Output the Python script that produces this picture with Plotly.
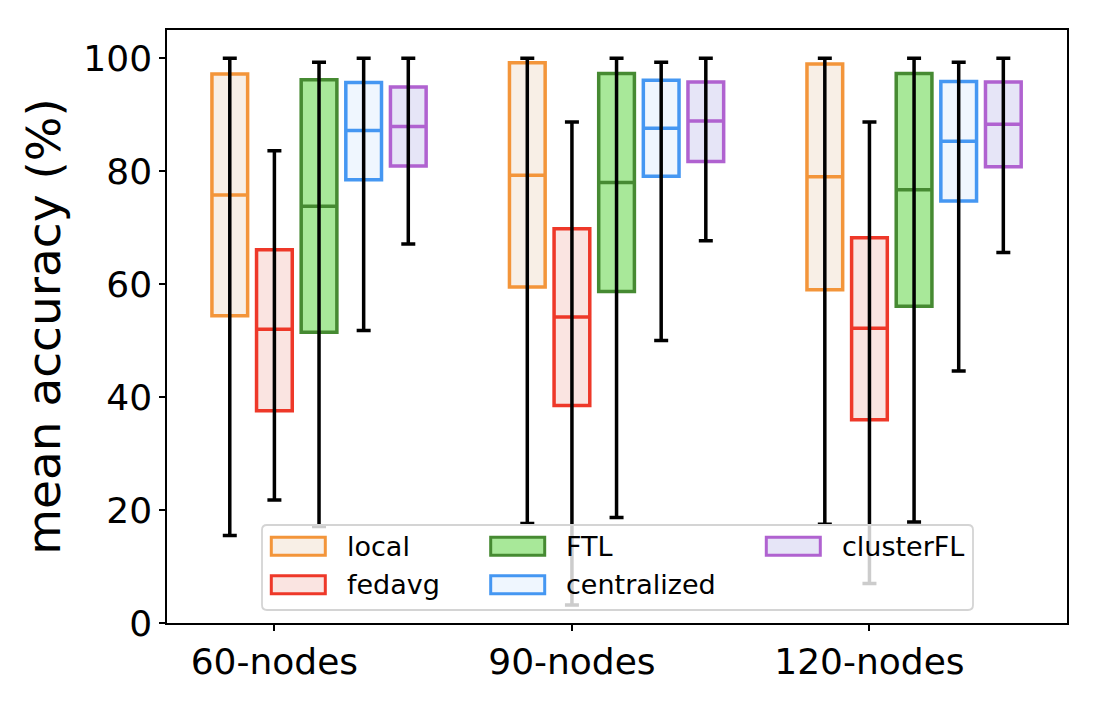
import plotly.graph_objects as go

# ---------------- data ----------------
groups = ["60-nodes", "90-nodes", "120-nodes"]
methods = ["local", "fedavg", "FTL", "centralized", "clusterFL"]

q3_local = [97.2, 99.2, 99.0]
q3_fedavg = [66.1, 69.8, 68.2]
q3_ftl = [96.2, 97.3, 97.3]
q3_central = [95.7, 96.1, 95.9]
q3_cluster = [94.9, 95.8, 95.8]

median_local = [75.8, 79.3, 79.0]
median_fedavg = [52.0, 54.2, 52.2]
median_ftl = [73.8, 78.0, 76.7]
median_central = [87.2, 87.6, 85.3]
median_cluster = [87.9, 88.9, 88.3]

q1_local = [54.4, 59.5, 59.0]
q1_fedavg = [37.6, 38.5, 36.0]
q1_ftl = [51.5, 58.7, 56.1]
q1_central = [78.5, 79.1, 74.7]
q1_cluster = [80.9, 81.7, 80.8]

whi_local = [100.0, 100.0, 100.0]
whi_fedavg = [83.6, 88.7, 88.7]
whi_ftl = [99.3, 100.0, 100.0]
whi_central = [100.0, 99.3, 99.3]
whi_cluster = [100.0, 100.0, 100.0]

wlo_local = [15.5, 17.6, 17.5]
wlo_fedavg = [21.8, 3.2, 7.0]
wlo_ftl = [17.1, 18.7, 17.9]
wlo_central = [51.8, 50.0, 44.6]
wlo_cluster = [67.1, 67.7, 65.6]

y_ticks = [0, 20, 40, 60, 80, 100]

# ---------------- styling ----------------
stats = {
    "local": (q1_local, median_local, q3_local, wlo_local, whi_local),
    "fedavg": (q1_fedavg, median_fedavg, q3_fedavg, wlo_fedavg, whi_fedavg),
    "FTL": (q1_ftl, median_ftl, q3_ftl, wlo_ftl, whi_ftl),
    "centralized": (q1_central, median_central, q3_central, wlo_central, whi_central),
    "clusterFL": (q1_cluster, median_cluster, q3_cluster, wlo_cluster, whi_cluster),
}
edge_colors = {
    "local": "#F3953A",
    "fedavg": "#EE3829",
    "FTL": "#468A32",
    "centralized": "#4597F2",
    "clusterFL": "#B062D0",
}
fill_colors = {
    "local": "#F8EFE6",
    "fedavg": "#FAE4E1",
    "FTL": "#A8E899",
    "centralized": "#EFF6FE",
    "clusterFL": "#E6E5F7",
}
offsets = [-0.15, 0.0, 0.15, 0.30, 0.45]
box_w = 0.12
FONT = "DejaVu Sans"

fig = go.Figure()

for m, off in zip(methods, offsets):
    q1, med, q3, lo, hi = stats[m]
    xs = [i + off for i in range(len(groups))]
    fig.add_trace(go.Box(
        x=xs, q1=q1, median=med, q3=q3, lowerfence=q1, upperfence=q3,
        width=box_w, whiskerwidth=0, boxpoints=False,
        fillcolor=fill_colors[m], line=dict(color=edge_colors[m], width=3.5),
        name=m, showlegend=False, hoverinfo="skip",
    ))

# whiskers (black line from min to max through the box, with caps)
for m, off in zip(methods, offsets):
    q1, med, q3, lo, hi = stats[m]
    xs = [i + off for i in range(len(groups))]
    fig.add_trace(go.Scatter(
        x=xs, y=lo, mode="markers",
        marker=dict(size=1, color="rgba(0,0,0,0)"),
        error_y=dict(type="data", symmetric=False,
                     array=[h - l for h, l in zip(hi, lo)],
                     arrayminus=[0] * len(lo),
                     color="black", thickness=3.5, width=7),
        showlegend=False, hoverinfo="skip",
    ))

# ---------------- layout ----------------
# page body has an 8px margin, so the figure is drawn 8px in from the corner
L, R, T, B = 159, 49, 22, 79
W, H = 1108, 694
PW, PH = W - L - R, H - T - B

fig.update_layout(
    width=W, height=H,
    margin=dict(l=L, r=R, t=T, b=B),
    plot_bgcolor="white", paper_bgcolor="white",
    boxmode="overlay", showlegend=False,
    font=dict(family=FONT, color="black"),
)
fig.update_xaxes(
    range=[-0.361, 2.664], tickmode="array", tickvals=list(range(len(groups))),
    ticktext=groups, tickfont=dict(size=36, family=FONT, color="black"),
    ticks="outside", ticklen=6, tickwidth=1.5, tickcolor="black",
    showline=True, linecolor="black", linewidth=1.5, mirror=True,
    showgrid=False, zeroline=False,
)
fig.update_yaxes(
    range=[0, 105], tickmode="array", tickvals=y_ticks,
    tickfont=dict(size=36, family=FONT, color="black"),
    ticks="outside", ticklen=6, tickwidth=1.5, tickcolor="black",
    showline=True, linecolor="black", linewidth=1.5, mirror=True,
    showgrid=False, zeroline=False,
    title=dict(text="mean accuracy (%)", font=dict(size=47, family=FONT, color="black"),
               standoff=8),
)

# ---------------- legend (matplotlib-like, 3 columns, column-major) ----------------
# positions below are given in screen pixels of the final page
OX, OY = 8, 8


def px2x(px):
    return (px - OX - L) / PW


def px2y(py):
    return (OY + T + PH - py) / PH


fx0, fx1 = px2x(262), px2x(973)
fyt, fyb = px2y(525), px2y(610)
rx, ry = 5 / PW, 5 / PH
frame = (f"M {fx0+rx},{fyt} L {fx1-rx},{fyt} Q {fx1},{fyt} {fx1},{fyt-ry} "
         f"L {fx1},{fyb+ry} Q {fx1},{fyb} {fx1-rx},{fyb} "
         f"L {fx0+rx},{fyb} Q {fx0},{fyb} {fx0},{fyb+ry} "
         f"L {fx0},{fyt-ry} Q {fx0},{fyt} {fx0+rx},{fyt} Z")
fig.add_shape(type="path", path=frame, xref="paper", yref="paper",
              fillcolor="rgba(255,255,255,0.8)", line=dict(color="#D4D4D4", width=1.8),
              layer="above")

sym_cx = [298.3, 517.7, 793.3]
txt_x = [345.0, 563.5, 840.0]
row_cy = [546.2, 584.7]
for i, m in enumerate(methods):
    c, r = i // 2, i % 2
    cx, cy = sym_cx[c], row_cy[r]
    fig.add_shape(type="rect", xref="paper", yref="paper",
                  x0=px2x(cx - 27), x1=px2x(cx + 27),
                  y0=px2y(cy + 9), y1=px2y(cy - 9),
                  fillcolor=fill_colors[m], line=dict(color=edge_colors[m], width=3),
                  layer="above")
    fig.add_annotation(x=px2x(txt_x[c]), y=px2y(cy), xref="paper", yref="paper",
                       text=m, showarrow=False, xanchor="left", yanchor="middle",
                       font=dict(size=27, family=FONT, color="black"))

fig.write_html("out.html")
